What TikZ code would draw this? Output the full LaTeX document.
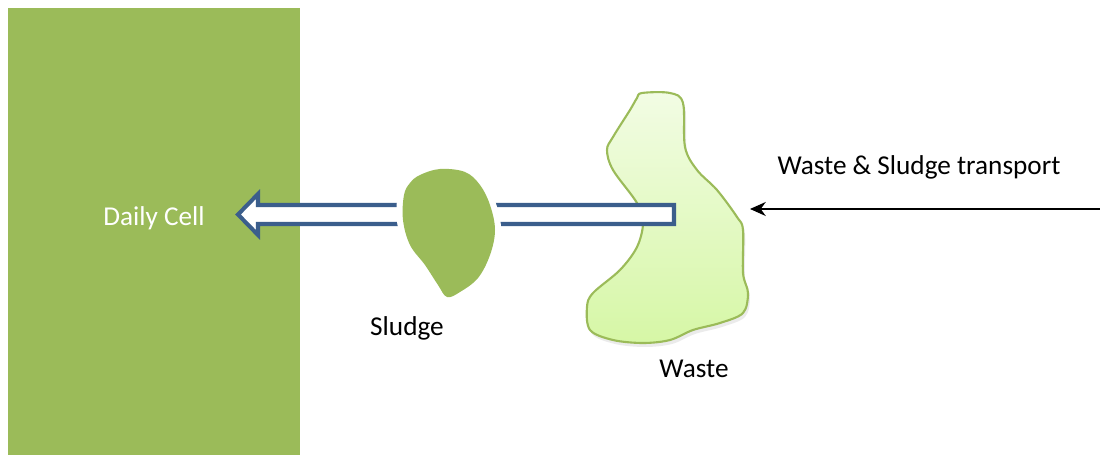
\documentclass[tikz,border=0pt]{standalone}
\usepackage{fontspec}
\setmainfont{Carlito}
\usetikzlibrary{arrows.meta}
\definecolor{cellgreen}{HTML}{9BBB59}
\definecolor{arrowblue}{HTML}{3B5E8C}
\definecolor{wastetop}{HTML}{F2FCE4}
\definecolor{wastebot}{HTML}{D6F7A6}
\begin{document}
\begin{tikzpicture}[
  x=0.02cm, y=-0.02cm,
  label text/.style={font=\fontsize{15.5}{18}\selectfont, text=black, inner sep=0pt},
  cell/.style={fill=cellgreen},
  block arrow/.style={draw=arrowblue, line width=2.3pt, fill=white, line join=miter},
  transport/.style={thick, -{Stealth[length=9pt, width=8pt]}}
]
  % page frame (1100 x 455 px)
  \useasboundingbox (0,0) rectangle (1100,455);

  % Daily cell block on the left
  \fill[cell] (8,8) rectangle (300,455);
  \node[label text, text=white] (cellname) at (154,218) {Daily Cell};

  % Waste heap: faint shadow, then gradient body
  \fill[black!8] plot[smooth cycle, tension=0.55] coordinates {
    (644,97) (672,97) (685,107) (687,151) (699,174) (719,194) (739,221)
    (745,234) (745,277) (750,297) (745,317) (722,327) (695,334) (672,344)
    (645,347) (615,344) (592,334) (589,311) (595,297) (622,274) (639,251)
    (645,227) (639,207) (615,174) (609,154) (615,141) (632,114) (639,102)};
  \draw[cellgreen, line width=1.2pt, top color=wastetop, bottom color=wastebot]
    plot[smooth cycle, tension=0.55] coordinates {
    (642,93) (670,93) (683,103) (685,147) (697,170) (717,190) (737,217)
    (743,230) (743,273) (748,293) (743,313) (720,323) (693,330) (670,340)
    (643,343) (613,340) (590,330) (587,307) (593,293) (620,270) (637,247)
    (643,223) (637,203) (613,170) (607,150) (613,137) (630,110) (637,98)};
  \node[label text] (waste) at (694,369) {Waste};

  % Hollow block arrow towards the daily cell
  \draw[block arrow] (674,205) -- (258,205) -- (258,194) -- (238,214.5)
    -- (258,235) -- (258,224) -- (674,224) -- cycle;

  % Sludge lump: shadow, white rim, green body
  \fill[black!12] plot[smooth cycle, tension=0.6] coordinates {
    (422,178) (442,172) (467,175) (482,188) (492,208) (497,233) (492,258)
    (480,281) (462,295) (449,300) (440,288) (427,268) (412,248) (405,223)
    (406,198) (412,186)};
  \draw[white, line width=7pt, fill=cellgreen] plot[smooth cycle, tension=0.6] coordinates {
    (420,175) (440,169) (465,172) (480,185) (490,205) (495,230) (490,255)
    (478,278) (460,292) (447,297) (438,285) (425,265) (410,245) (403,220)
    (404,195) (410,183)};
  \fill[cellgreen] plot[smooth cycle, tension=0.6] coordinates {
    (420,175) (440,169) (465,172) (480,185) (490,205) (495,230) (490,255)
    (478,278) (460,292) (447,297) (438,285) (425,265) (410,245) (403,220)
    (404,195) (410,183)};
  \node[label text] (sludge) at (407,328) {Sludge};

  % Incoming transport
  \coordinate (feed) at (1100,209);
  \coordinate (drop) at (750,209);
  \draw[transport] (feed) -- (drop);
  \node[label text] (transportname) at (919,167) {Waste \& Sludge transport};

\end{tikzpicture}
\end{document}
